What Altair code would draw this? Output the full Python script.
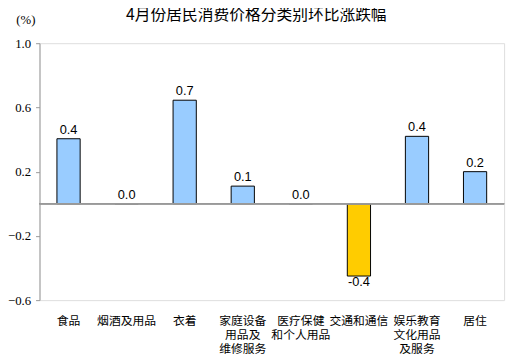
import altair as alt
import pandas as pd

categories = ["食品", "烟酒及用品", "衣着", "家庭设备\n用品及\n维修服务",
              "医疗保健\n和个人用品", "交通和通信", "娱乐教育\n文化用品\n及服务", "居住"]
values = [0.405, 0.0, 0.645, 0.11, 0.0, -0.45, 0.42, 0.2]
labels = ["0.4", "0.0", "0.7", "0.1", "0.0", "-0.4", "0.4", "0.2"]
y_ticks = [-0.6, -0.2, 0.2, 0.6, 1.0]

df = pd.DataFrame({"cat": categories, "v": values, "lab": labels})
df["sign"] = ["down" if v < 0 else "up" for v in values]

x = alt.X("cat:N", sort=categories, title=None,
          scale=alt.Scale(paddingInner=0.6, paddingOuter=0.3),
          axis=alt.Axis(labelAngle=0, domain=False, ticks=False,
                        labelExpr="split(datum.label, '\\n')",
                        labelFont="Noto Sans CJK SC", labelFontSize=12,
                        labelLineHeight=14, labelColor="#000000",
                        labelPadding=16, labelBaseline="top"))
y = alt.Y("v:Q", title="(%)",
          scale=alt.Scale(domain=[-0.6, 1.0], nice=False, zero=False),
          axis=alt.Axis(values=y_ticks, format=".1f", grid=False,
                        domainColor="#999999", tickColor="#999999", tickSize=4,
                        labelFont="Liberation Serif", labelFontSize=13,
                        labelColor="#000000", labelPadding=5,
                        titleAngle=0, titleX=-24, titleY=-24, titleAlign="left",
                        titleBaseline="middle", titleFont="Liberation Serif",
                        titleFontSize=13, titleFontWeight="normal",
                        titleColor="#000000"))

base = alt.Chart(df)

bars = base.mark_bar(stroke="#000000", strokeWidth=1).encode(
    x=x, y=y,
    color=alt.Color("sign:N", legend=None,
                    scale=alt.Scale(domain=["up", "down"], range=["#99CCFF", "#FFCC00"])),
)

zero = base.mark_rule(color="#999999", strokeWidth=1).encode(y=alt.datum(0))

txt_pos = base.transform_filter("datum.v >= 0").mark_text(
    baseline="bottom", dy=-2, font="Liberation Sans", fontSize=13, color="#000000"
).encode(x=alt.X("cat:N", sort=categories), y="v:Q", text="lab:N")

txt_neg = base.transform_filter("datum.v < 0").mark_text(
    baseline="top", dy=0, font="Liberation Sans", fontSize=13, color="#000000"
).encode(x=alt.X("cat:N", sort=categories), y="v:Q", text="lab:N")

chart = alt.layer(bars, zero, txt_pos, txt_neg).properties(
    width=472, height=261,
    title=alt.TitleParams("4月份居民消费价格分类别环比涨跌幅", font="Noto Sans CJK SC",
                          fontSize=16, fontWeight="normal", color="#000000",
                          anchor="start", frame="group", dx=88, offset=-25,
                          baseline="bottom"),
    autosize=alt.AutoSizeParams(type="none"),
    padding={"left": 32, "top": 33, "right": 7, "bottom": 54},
).configure_view(stroke="#999999", strokeWidth=1).configure(background="#ffffff")

chart.save("out.html", embed_options={"renderer": "svg", "actions": False})
